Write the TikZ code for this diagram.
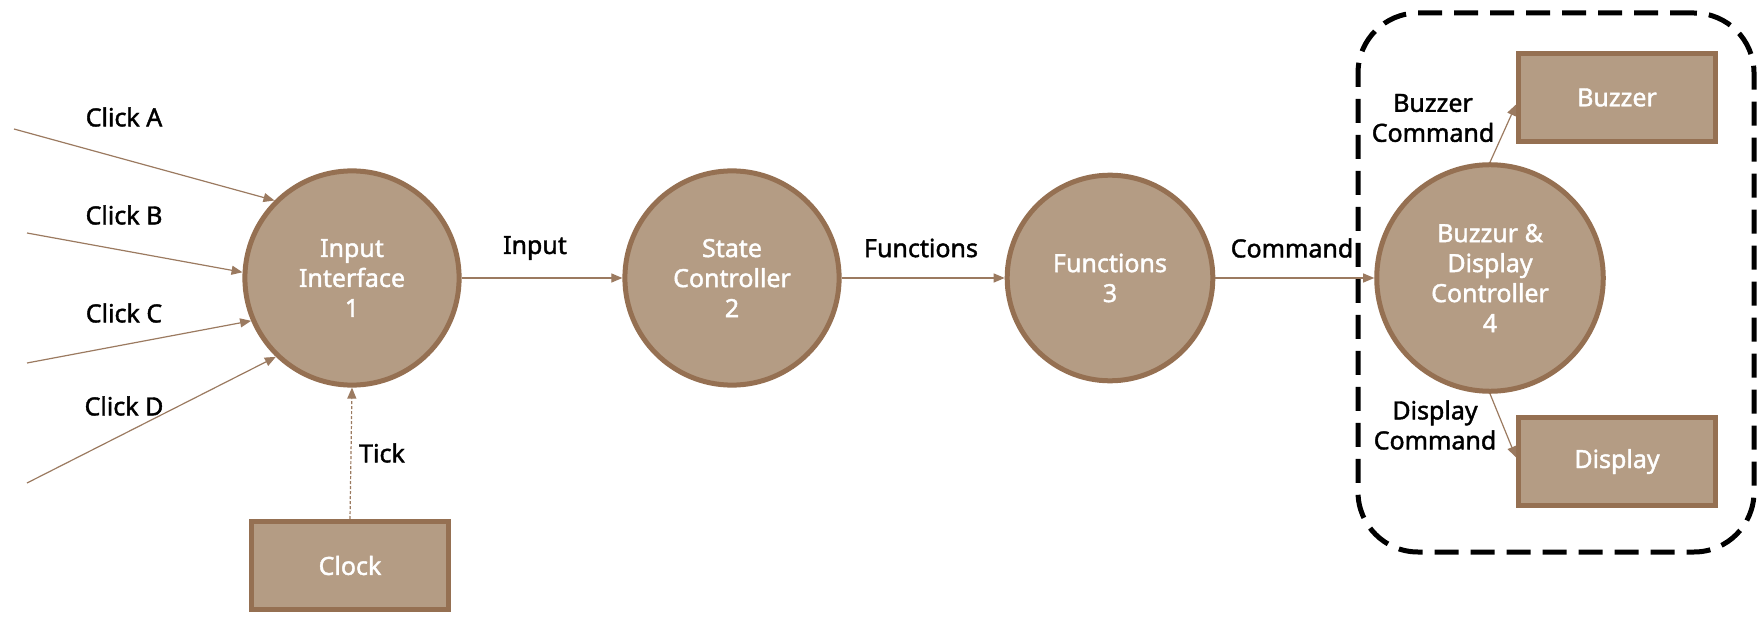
\documentclass[tikz,border=0pt]{standalone}
\usepackage{fontspec}
\setmainfont{Noto Sans}[RawFeature={embolden=1.6}]
\usetikzlibrary{arrows.meta}
\definecolor{fillc}{HTML}{B49C84}
\definecolor{borderc}{HTML}{957052}
\definecolor{arrowc}{HTML}{9B7A60}
\begin{document}
\begin{tikzpicture}[x=1pt,y=1pt,
  txt/.style={font=\fontsize{25}{30}\selectfont, align=center, inner sep=0pt},
  proc/.style={circle, draw=borderc, fill=fillc, line width=5pt, minimum size=205pt, txt, text=white},
  ent/.style={rectangle, draw=borderc, fill=fillc, line width=5pt, minimum width=197pt, minimum height=88pt, txt, text=white},
  flow/.style={draw=arrowc, line width=1.2pt, -{Triangle[length=11pt,width=9pt]}},
  lbl/.style={txt, text=black}]
\useasboundingbox (0,0) rectangle (1760,-620);

% group
\node[draw=black, line width=5pt, dash pattern=on 24pt off 12pt, rounded corners=60pt,
      minimum width=396pt, minimum height=539pt, inner sep=0pt] (grp) at (1556,-282.5) {};

% processes
\node[proc] (c1) at (352,-278) {\raisebox{-3pt}{\parbox{200pt}{\centering Input\\Interface\\1}}};
\node[proc] (c2) at (732,-278) {\raisebox{-3pt}{\parbox{200pt}{\centering State\\Controller\\2}}};
\node[proc] (c3) at (1110,-278) {\raisebox{-3pt}{\parbox{200pt}{\centering Functions\\3}}};
\node[proc] (c4) at (1490,-278) {\raisebox{-3pt}{\parbox{200pt}{\centering Buzzur \&\\Display\\Controller\\4}}};

% entities
\node[ent] (clock) at (350,-565.5) {Clock};
\node[ent] (buzzer) at (1617,-97.5) {Buzzer};
\node[ent] (display) at (1617,-461.5) {Display};

% click sources
\coordinate (sA) at (14,-129);
\coordinate (sB) at (27,-233);
\coordinate (sC) at (27,-363);
\coordinate (sD) at (27,-483);

\draw[flow] (sA) -- (c1.135);
\draw[flow] (sB) -- (c1.177);
\draw[flow] (sC) -- (c1.203);
\draw[flow] (sD) -- (c1.226);

\node[lbl] (lA) at (124,-117) {Click A};
\node[lbl] (lB) at (124,-215) {Click B};
\node[lbl] (lC) at (124,-313) {Click C};
\node[lbl] (lD) at (124,-406) {Click D};

% tick
\draw[flow, dash pattern=on 3pt off 2pt] (clock.north) -- (c1.south);
\node[lbl] (ltick) at (382,-453) {Tick};

% main flows
\draw[flow] (c1) -- (c2);
\draw[flow] (c2) -- (c3);
\draw[flow] (c3) -- (c4);
\node[lbl] (linput) at (535,-248) {Input};
\node[lbl] (lfunc) at (921,-248) {Functions};
\node[lbl] (lcmd) at (1292,-248) {Command};

% outputs
\draw[flow] (c4.north) -- ([yshift=-7pt]buzzer.west);
\draw[flow] (c4.south) -- ([yshift=4pt]display.west);
\node[lbl] (lbc) at (1433,-118) {Buzzer\\Command};
\node[lbl] (ldc) at (1435,-425) {Display\\Command};
\end{tikzpicture}
\end{document}
